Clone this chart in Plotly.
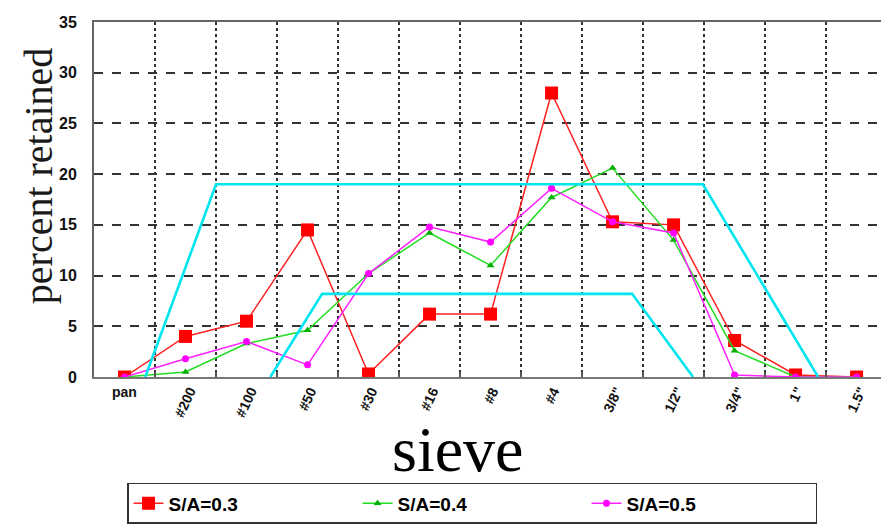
import plotly.graph_objects as go

# Sieve sizes (finest to coarsest)
sieves = ["pan", "#200", "#100", "#50", "#30", "#16", "#8", "#4",
          '3/8"', '1/2"', '3/4"', '1"', '1.5"']

# Percent retained on each sieve for the three sand/aggregate ratios
sa03 = [0, 4.0, 5.5, 14.5, 0.3, 6.2, 6.2, 28.0, 15.3, 15.0, 3.6, 0.2, 0]
sa04 = [0, 0.5, 3.3, 4.6, 10.2, 14.2, 11.0, 17.7, 20.6, 13.5, 2.6, 0, 0]
sa05 = [0, 1.8, 3.5, 1.2, 10.2, 14.8, 13.3, 18.6, 15.3, 14.2, 0.2, 0, 0]

# Specification envelope, break points in sieve-index units
upper_x = [0.34, 1.5, 9.48, 11.37]
upper_y = [0, 19, 19, 0]
lower_x = [2.39, 3.24, 8.32, 9.32]
lower_y = [0, 8.2, 8.2, 0]

y_ticks = [0, 5, 10, 15, 20, 25, 30, 35]

SANS = "Liberation Sans, Arial, sans-serif"
SERIF = "Liberation Serif, Times New Roman, DejaVu Serif, serif"

X_RANGE = [-0.5, 12.4]

fig = go.Figure()

# envelope lines on an overlaid linear axis sharing the same range
fig.add_trace(go.Scatter(x=upper_x, y=upper_y, xaxis="x2", mode="lines",
                         line=dict(color="#00e6f0", width=2.6),
                         showlegend=False, hoverinfo="skip"))
fig.add_trace(go.Scatter(x=lower_x, y=lower_y, xaxis="x2", mode="lines",
                         line=dict(color="#00e6f0", width=2.6),
                         showlegend=False, hoverinfo="skip"))

fig.add_trace(go.Scatter(x=sieves, y=sa03, name="S/A=0.3", mode="lines+markers",
                         line=dict(color="#ff2020", width=1.5),
                         marker=dict(symbol="square", size=13, color="#ff0000")))
fig.add_trace(go.Scatter(x=sieves, y=sa04, name="S/A=0.4", mode="lines+markers",
                         line=dict(color="#22dd22", width=1.5),
                         marker=dict(symbol="triangle-up", size=7, color="#00b000")))
fig.add_trace(go.Scatter(x=sieves, y=sa05, name="S/A=0.5", mode="lines+markers",
                         line=dict(color="#ff22ff", width=1.5),
                         marker=dict(symbol="circle", size=7, color="#ff00ff")))

# sieve labels under the axis
annotations = []
for i, s in enumerate(sieves):
    annotations.append(dict(
        x=s, xref="x", y=-0.015, yref="paper", text=s, showarrow=False,
        textangle=0 if s == "pan" else -65,
        xanchor="center", yanchor="top",
        font=dict(family=SANS, size=14, color="#111", weight="bold"),
    ))

annotations.append(dict(
    x=-0.071, xref="paper", y=0.566, yref="paper", text="percent retained",
    showarrow=False, textangle=-90, xanchor="center", yanchor="middle",
    font=dict(family=SERIF, size=40, color="#1a1a1a"),
))
annotations.append(dict(
    x=0.462, xref="paper", y=-0.205, yref="paper", text="sieve",
    showarrow=False, xanchor="center", yanchor="middle",
    font=dict(family=SERIF, size=64, color="#000"),
))

fig.update_layout(
    width=881, height=526, autosize=False,
    margin=dict(l=94, r=0, t=22, b=149),
    paper_bgcolor="white", plot_bgcolor="white",
    xaxis=dict(
        type="category", range=X_RANGE, tickson="boundaries",
        showticklabels=False, ticks="inside", ticklen=5, tickwidth=1.5,
        tickcolor="#555",
        showgrid=True, gridcolor="#333", gridwidth=1.6, griddash="dot",
        showline=True, linecolor="#777", linewidth=2, zeroline=False,
    ),
    xaxis2=dict(
        overlaying="x", side="top", range=X_RANGE, showticklabels=False,
        ticks="", showgrid=False, zeroline=False,
        showline=True, linecolor="#666", linewidth=2,
    ),
    yaxis=dict(
        range=[0, 35], tickvals=y_ticks, ticks="", ticklabelstandoff=12,
        tickfont=dict(family=SANS, size=16, color="#111", weight="bold"),
        showgrid=True, gridcolor="#333", gridwidth=1.6, griddash="dash",
        showline=True, linecolor="#666", linewidth=2, zeroline=False,
    ),
    legend=dict(
        orientation="h", x=0.042, y=-0.298, xanchor="left", yanchor="top",
        bordercolor="#333", borderwidth=1.5, bgcolor="white",
        font=dict(family=SANS, size=19, color="#000", weight="bold"),
        entrywidth=184, itemwidth=30,
    ),
    annotations=annotations,
)

fig.write_html("out.html")
